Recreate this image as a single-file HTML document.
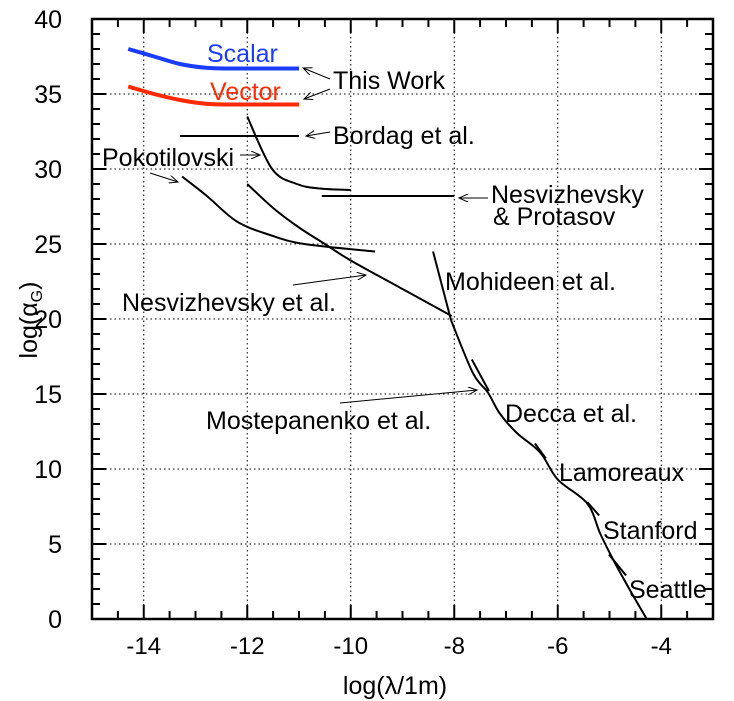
<!DOCTYPE html>
<html><head><meta charset="utf-8"><style>
body{margin:0;background:#fff}
svg{display:block;font-family:"Liberation Sans",sans-serif}
</style></head><body>
<svg id="chart" width="734" height="701" viewBox="0 0 734 701">
<defs><marker id="ah" markerWidth="10" markerHeight="8" refX="9" refY="4" orient="auto" markerUnits="userSpaceOnUse"><path d="M0,0 L9,4 L0,8" fill="none" stroke="#000" stroke-width="1"/></marker></defs>
<g id="grid"></g><g id="series"></g><g id="axes"></g>
<path stroke="#000" stroke-width="2" fill="none" d="M92,619v-8M117.9,619v-8M169.6,619v-8M195.5,619v-8M221.4,619v-8M273.1,619v-8M299,619v-8M324.9,619v-8M376.6,619v-8M402.5,619v-8M428.4,619v-8M480.1,619v-8M506,619v-8M531.9,619v-8M583.6,619v-8M609.5,619v-8M635.4,619v-8M687.1,619v-8M117.9,19v8M169.6,19v8M195.5,19v8M221.4,19v8M273.1,19v8M299,19v8M324.9,19v8M376.6,19v8M402.5,19v8M428.4,19v8M480.1,19v8M506,19v8M531.9,19v8M583.6,19v8M609.5,19v8M635.4,19v8M687.1,19v8"/>
<path stroke="#000" stroke-width="2" fill="none" d="M143.75,619v-14M247.25,619v-14M350.75,619v-14M454.25,619v-14M557.75,619v-14M661.25,619v-14M143.75,19v14M247.25,19v14M350.75,19v14M454.25,19v14M557.75,19v14M661.25,19v14"/>
<path stroke="#000" stroke-width="2" fill="none" d="M92,604h8M92,589h8M92,574h8M92,559h8M92,529h8M92,514h8M92,499h8M92,484h8M92,454h8M92,439h8M92,424h8M92,409h8M92,379h8M92,364h8M92,349h8M92,334h8M92,304h8M92,289h8M92,274h8M92,259h8M92,229h8M92,214h8M92,199h8M92,184h8M92,154h8M92,139h8M92,124h8M92,109h8M92,79h8M92,64h8M92,49h8M92,34h8M92,544h14M92,469h14M92,394h14M92,319h14M92,244h14M92,169h14M92,94h14M713,604h-8M713,589h-8M713,574h-8M713,559h-8M713,529h-8M713,514h-8M713,499h-8M713,484h-8M713,454h-8M713,439h-8M713,424h-8M713,409h-8M713,379h-8M713,364h-8M713,349h-8M713,334h-8M713,304h-8M713,289h-8M713,274h-8M713,259h-8M713,229h-8M713,214h-8M713,199h-8M713,184h-8M713,154h-8M713,139h-8M713,124h-8M713,109h-8M713,79h-8M713,64h-8M713,49h-8M713,34h-8M713,544h-14M713,469h-14M713,394h-14M713,319h-14M713,244h-14M713,169h-14M713,94h-14"/>
<rect x="92" y="19" width="621" height="600" fill="none" stroke="#000" stroke-width="2.5"/>
<g font-family="Liberation Sans, sans-serif" font-size="25" fill="#000">
<text x="207" y="62" fill="#1a3cff">Scalar</text>
<text x="210" y="100" fill="#ff2a00">Vector</text>
<text x="333" y="89">This Work</text>
<text x="333" y="144">Bordag et al.</text>
<text x="102" y="166">Pokotilovski</text>
<text x="491" y="203">Nesvizhevsky</text>
<text x="493" y="225">&amp; Protasov</text>
<text x="122" y="311">Nesvizhevsky et al.</text>
<text x="445" y="290">Mohideen et al.</text>
<text x="206" y="429">Mostepanenko et al.</text>
<text x="505" y="422">Decca et al.</text>
<text x="559" y="481">Lamoreaux</text>
<text x="603" y="539">Stanford</text>
<text x="629" y="598">Seattle</text>
<text x="395" y="694" text-anchor="middle" font-size="25">log(λ/1m)</text>
<text transform="translate(37,320) rotate(-90)" text-anchor="middle" font-size="25">log(α<tspan font-size="16" dy="5">G</tspan><tspan dy="-5">)</tspan></text>
</g>
<g stroke="#000" stroke-width="1" fill="none" marker-end="url(#ah)">
<line x1="330" y1="79" x2="303" y2="68"/>
<line x1="330" y1="89" x2="304" y2="99"/>
<line x1="330" y1="132" x2="306" y2="136"/>
<line x1="240" y1="155" x2="260" y2="155"/>
<line x1="150" y1="173" x2="178" y2="182"/>
<line x1="488" y1="198" x2="459" y2="198"/>
<line x1="293" y1="285" x2="366" y2="275"/>
<line x1="340" y1="403" x2="477" y2="390"/>
</g>
</svg>
<script>
const xTicks=[-14,-12,-10,-8,-6,-4];
const yTicks=[0,5,10,15,20,25,30,35,40];
const scalarX=[-14.3,-13.8,-13.3,-12.8,-12.3,-11.0];
const scalarY=[38.0,37.5,37.0,36.75,36.7,36.7];
const vectorX=[-14.3,-13.8,-13.3,-12.8,-12.3,-11.0];
const vectorY=[35.5,35.0,34.6,34.35,34.3,34.3];
const bordagX=[-13.3,-11.0];const bordagY=[32.2,32.2];
const pokoX=[-13.26,-12.78,-12.2,-11.56,-10.9,-9.53];
const pokoY=[29.5,28.2,26.5,25.6,25.0,24.5];
const upperX=[-12.0,-11.52,-11.04,-10.6,-10.0];
const upperY=[33.5,30.0,29.0,28.7,28.6];
const protasovX=[-10.56,-8.0];const protasovY=[28.2,28.2];
const nesvX=[-12.0,-11.5,-11.0,-10.5,-10.0,-9.0,-8.05];
const nesvY=[29.0,27.4,26.1,25.0,23.9,22.0,20.2];
const mohX=[-8.41,-8.06];const mohY=[24.5,19.9];
const mainX=[-8.06,-7.64,-7.35,-7.12,-6.79,-6.34,-6.0,-5.43,-5.18,-4.92,-4.6,-4.28];
const mainY=[19.9,16.4,15.1,13.7,12.4,11.1,9.3,7.7,5.7,3.9,1.9,0.0];
const deccaX=[-7.66,-7.33];const deccaY=[17.3,15.2];
const lamX=[-6.44,-6.23];const lamY=[11.7,10.7];
const stanX=[-5.43,-5.2];const stanY=[7.8,6.9];
const seaX=[-5.01,-4.68];const seaY=[4.3,2.9];

const L=92,R=713,T=19,B=619,X0=-15,X1=-3,Y0=0,Y1=40;
const sx=v=>L+(v-X0)/(X1-X0)*(R-L);
const sy=v=>B-(v-Y0)/(Y1-Y0)*(B-T);
const NS='http://www.w3.org/2000/svg';
function mk(t,a,p){const e=document.createElementNS(NS,t);for(const k in a)e.setAttribute(k,a[k]);p.appendChild(e);return e;}
const grid=document.getElementById('grid'),ser=document.getElementById('series'),ax=document.getElementById('axes');
xTicks.forEach(v=>{const g=mk('line',{x1:sx(v),x2:sx(v),y1:T,y2:B,stroke:'#000','stroke-width':1,'stroke-dasharray':'1.5,3'},grid);


const t=mk('text',{x:sx(v),y:654,'text-anchor':'middle','font-size':24},ax);t.textContent=v;

});
yTicks.forEach(v=>{if(v>0&&v<40){const g=mk('line',{x1:L,x2:R,y1:sy(v),y2:sy(v),stroke:'#000','stroke-width':1,'stroke-dasharray':'1.5,3'},grid);

}
const t=mk('text',{x:62,y:sy(v)+9,'text-anchor':'end','font-size':25},ax);t.textContent=v;

});
function smooth(xs,ys){const p=xs.map((x,i)=>[sx(x),sy(ys[i])]);let d='M'+p[0];
for(let i=0;i<p.length-1;i++){const p0=p[i-1]||p[i],p1=p[i],p2=p[i+1],p3=p[i+2]||p2;
const c1=[p1[0]+(p2[0]-p0[0])/6,p1[1]+(p2[1]-p0[1])/6],c2=[p2[0]-(p3[0]-p1[0])/6,p2[1]-(p3[1]-p1[1])/6];
d+='C'+c1+' '+c2+' '+p2;}return d;}
function line(xs,ys,col,w,name){const p=mk('path',{d:smooth(xs,ys),fill:'none',stroke:col,'stroke-width':w,'stroke-linejoin':'round'},ser);

}
line(scalarX,scalarY,'#1a3cff',4,'scalar-curve');
line(vectorX,vectorY,'#ff2a00',4,'vector-curve');
line(bordagX,bordagY,'#000',2,'bordag-line');
line(pokoX,pokoY,'#000',2,'pokotilovski-curve');
line(upperX,upperY,'#000',2,'pokotilovski-upper-curve');
line(protasovX,protasovY,'#000',2,'nesvizhevsky-protasov-line');
line(nesvX,nesvY,'#000',2,'nesvizhevsky-curve');
line(mohX,mohY,'#000',2,'mohideen-curve');
line(mainX,mainY,'#000',2,'casimir-curve');
line(deccaX,deccaY,'#000',2,'decca-segment');
line(lamX,lamY,'#000',2,'lamoreaux-segment');
line(stanX,stanY,'#000',2,'stanford-segment');
line(seaX,seaY,'#000',2,'seattle-segment');
</script>
</body></html>
